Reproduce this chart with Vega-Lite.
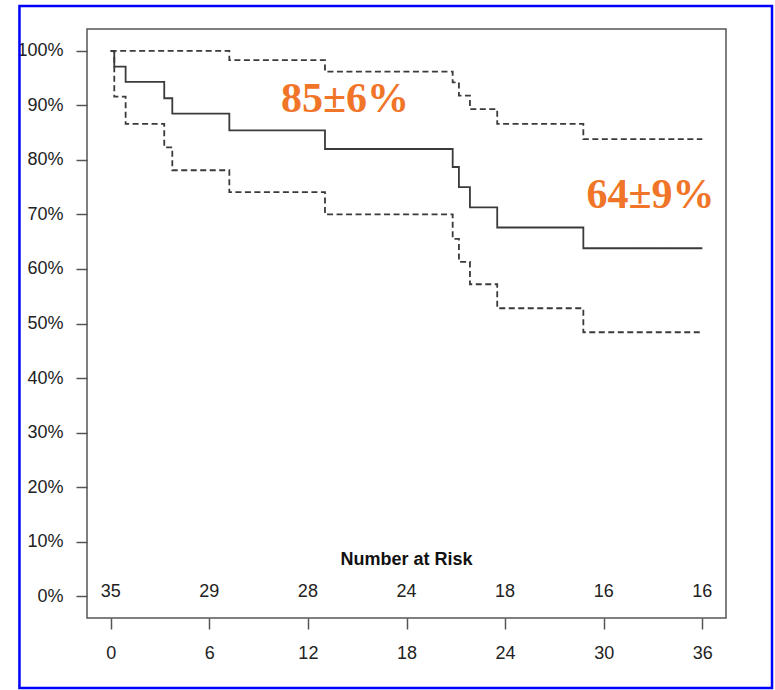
{
  "$schema": "https://vega.github.io/schema/vega-lite/v6.json",
  "width": 639,
  "height": 589,
  "autosize": {"type": "none"},
  "padding": {"left": 87, "top": 29, "right": 49, "bottom": 72},
  "background": "white",
  "config": {
    "view": {"stroke": "#555555", "strokeWidth": 1.5},
    "font": "Liberation Sans"
  },
  "datasets": {
    "km": [
      {"t": 0, "s": 100, "series": "est", "kind": "est"},
      {"t": 0.22, "s": 97.1, "series": "est", "kind": "est"},
      {"t": 0.91, "s": 94.3, "series": "est", "kind": "est"},
      {"t": 3.26, "s": 91.3, "series": "est", "kind": "est"},
      {"t": 3.75, "s": 88.5, "series": "est", "kind": "est"},
      {"t": 7.22, "s": 85.4, "series": "est", "kind": "est"},
      {"t": 13.04, "s": 82.0, "series": "est", "kind": "est"},
      {"t": 20.81, "s": 78.7, "series": "est", "kind": "est"},
      {"t": 21.19, "s": 75.0, "series": "est", "kind": "est"},
      {"t": 21.86, "s": 71.3, "series": "est", "kind": "est"},
      {"t": 23.52, "s": 67.6, "series": "est", "kind": "est"},
      {"t": 28.76, "s": 63.8, "series": "est", "kind": "est"},
      {"t": 36, "s": 63.8, "series": "est", "kind": "est"},
      {"t": 0, "s": 100, "series": "upper", "kind": "ci"},
      {"t": 7.22, "s": 98.3, "series": "upper", "kind": "ci"},
      {"t": 13.04, "s": 96.2, "series": "upper", "kind": "ci"},
      {"t": 20.81, "s": 94.2, "series": "upper", "kind": "ci"},
      {"t": 21.19, "s": 91.8, "series": "upper", "kind": "ci"},
      {"t": 21.86, "s": 89.3, "series": "upper", "kind": "ci"},
      {"t": 23.52, "s": 86.6, "series": "upper", "kind": "ci"},
      {"t": 28.76, "s": 83.8, "series": "upper", "kind": "ci"},
      {"t": 36, "s": 83.8, "series": "upper", "kind": "ci"},
      {"t": 0, "s": 100, "series": "lower", "kind": "ci"},
      {"t": 0.22, "s": 91.6, "series": "lower", "kind": "ci"},
      {"t": 0.91, "s": 86.6, "series": "lower", "kind": "ci"},
      {"t": 3.26, "s": 82.3, "series": "lower", "kind": "ci"},
      {"t": 3.75, "s": 78.1, "series": "lower", "kind": "ci"},
      {"t": 7.22, "s": 74.1, "series": "lower", "kind": "ci"},
      {"t": 13.04, "s": 70.0, "series": "lower", "kind": "ci"},
      {"t": 20.81, "s": 65.5, "series": "lower", "kind": "ci"},
      {"t": 21.19, "s": 61.3, "series": "lower", "kind": "ci"},
      {"t": 21.86, "s": 57.2, "series": "lower", "kind": "ci"},
      {"t": 23.52, "s": 52.8, "series": "lower", "kind": "ci"},
      {"t": 28.76, "s": 48.4, "series": "lower", "kind": "ci"},
      {"t": 36, "s": 48.4, "series": "lower", "kind": "ci"}
    ],
    "risk": [
      {"t": 0, "n": "35"},
      {"t": 6, "n": "29"},
      {"t": 12, "n": "28"},
      {"t": 18, "n": "24"},
      {"t": 24, "n": "18"},
      {"t": 30, "n": "16"},
      {"t": 36, "n": "16"}
    ],
    "notes": [
      {"t": 14.26, "p": 91.2, "label": "85±6%"},
      {"t": 32.85, "p": 73.56, "label": "64±9%"}
    ],
    "heading": [
      {"t": 18, "label": "Number at Risk"}
    ]
  },
  "layer": [
    {
      "data": {"name": "km"},
      "mark": {"type": "line", "interpolate": "step-after", "color": "#3a3a3a", "strokeWidth": 1.8},
      "encoding": {
        "x": {
          "field": "t", "type": "quantitative",
          "scale": {"domain": [-1.44, 37.44], "nice": false, "zero": false},
          "axis": {
            "values": [0, 6, 12, 18, 24, 30, 36], "title": null, "grid": false, "domain": false,
            "tickSize": 11, "tickColor": "#555555", "tickWidth": 1.5,
            "labelFontSize": 18, "labelColor": "#222222", "labelPadding": 24,
            "labelBaseline": "middle", "labelFlush": false
          }
        },
        "y": {
          "field": "s", "type": "quantitative",
          "scale": {"domain": [-4, 104], "nice": false, "zero": false},
          "axis": {
            "values": [0, 10, 20, 30, 40, 50, 60, 70, 80, 90, 100], "title": null, "grid": false, "domain": false,
            "tickSize": 11, "tickColor": "#555555", "tickWidth": 1.5,
            "labelFontSize": 18, "labelColor": "#222222", "labelPadding": 13,
            "labelBaseline": "middle", "labelFlush": false,
            "labelExpr": "datum.value + '%'"
          }
        },
        "detail": {"field": "series"},
        "strokeDash": {
          "field": "kind", "type": "nominal",
          "scale": {"domain": ["est", "ci"], "range": [[1, 0], [6, 3.5]]},
          "legend": null
        }
      }
    },
    {
      "data": {"name": "risk"},
      "mark": {"type": "text", "fontSize": 18, "color": "#222222", "align": "center", "baseline": "middle"},
      "encoding": {
        "x": {"field": "t", "type": "quantitative"},
        "y": {"datum": 0.8},
        "text": {"field": "n"}
      }
    },
    {
      "data": {"name": "heading"},
      "mark": {"type": "text", "fontSize": 18, "fontWeight": "bold", "color": "#111111", "align": "center", "baseline": "middle"},
      "encoding": {
        "x": {"field": "t", "type": "quantitative"},
        "y": {"datum": 6.64},
        "text": {"field": "label"}
      }
    },
    {
      "data": {"name": "notes"},
      "mark": {"type": "text", "font": "Liberation Serif", "fontSize": 42, "fontWeight": "bold", "color": "#F07528", "align": "center", "baseline": "middle"},
      "encoding": {
        "x": {"field": "t", "type": "quantitative"},
        "y": {"field": "p", "type": "quantitative"},
        "text": {"field": "label"}
      }
    },
    {
      "data": {"values": [{}]},
      "mark": {"type": "rect", "fill": "transparent", "stroke": "#0000FF", "strokeWidth": 2.5, "clip": false},
      "encoding": {
        "x": {"datum": -5.55},
        "x2": {"datum": 40.24},
        "y": {"datum": 108.2},
        "y2": {"datum": -16.83}
      }
    }
  ]
}
